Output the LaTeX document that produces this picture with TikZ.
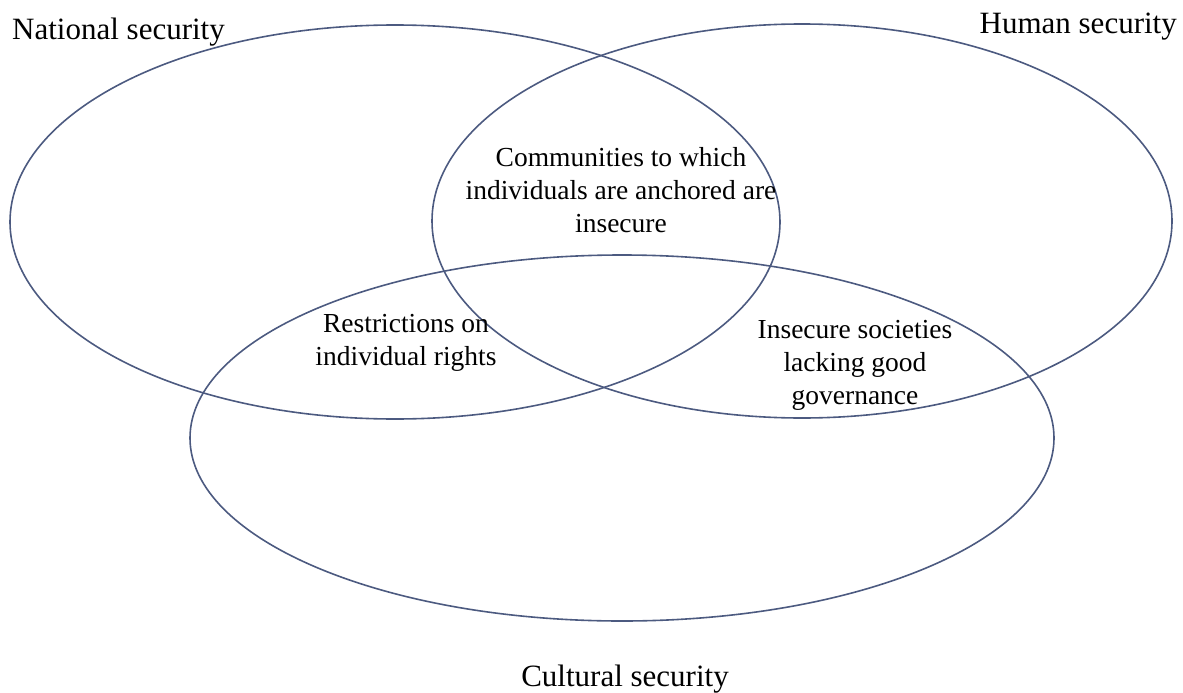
\documentclass[tikz,border=0pt]{standalone}
\usepackage{fontspec}
\setmainfont{Liberation Serif}
\definecolor{ringcol}{HTML}{4C5A80}
\begin{document}
\begin{tikzpicture}[x=1pt,y=-1pt,
  ring/.style={draw=ringcol,line width=1.6pt},
  title/.style={inner sep=0pt,font=\fontsize{31}{36}\selectfont},
  inner/.style={inner sep=0pt,align=center,font=\fontsize{27.5}{33}\selectfont}]
\useasboundingbox (0,0) rectangle (1183,693);
\draw[ring] (395,222) ellipse [x radius=385, y radius=197];
\draw[ring] (802,221) ellipse [x radius=370, y radius=197];
\draw[ring] (622,438) ellipse [x radius=432, y radius=183];
\node[title,anchor=base west] (nat) at (12,40) {National security};
\node[title,anchor=base east] (hum) at (1177,34) {Human security};
\node[title,anchor=base] (cul) at (625,686) {Cultural security};
\node[inner] (comm) at (621,190) {Communities to which\\individuals are anchored are\\insecure};
\node[inner] (restr) at (406,343) {Restrictions on\\individual rights};
\node[inner] (insec) at (855,365) {Insecure societies\\lacking good\\governance};
\end{tikzpicture}
\end{document}
